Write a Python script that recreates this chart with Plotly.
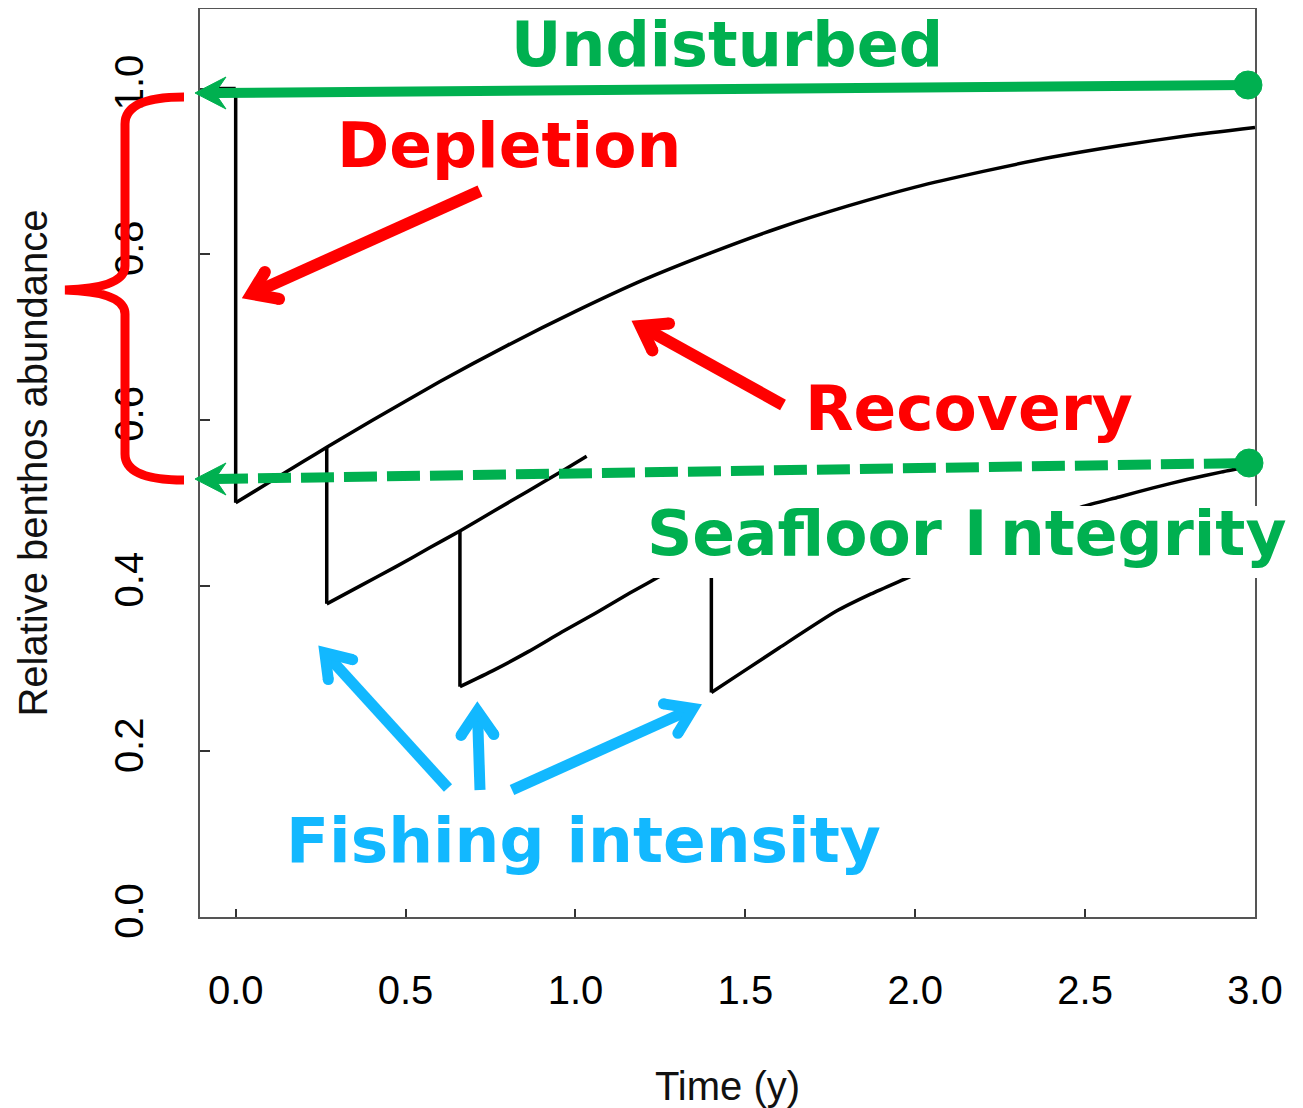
import math
import plotly.graph_objects as go

# ---------------- data ----------------
# recovery after the first (t = 0) impact, continued without further fishing
recovery_t = [0.0, 0.1, 0.2, 0.268, 0.4, 0.6, 0.8, 1.0, 1.2, 1.4, 1.6, 1.8, 2.0, 2.2, 2.4, 2.6, 2.8, 3.0]
recovery_b = [0.500, 0.525, 0.550, 0.567, 0.599, 0.646, 0.690, 0.731, 0.769, 0.802, 0.832, 0.858,
              0.881, 0.900, 0.917, 0.931, 0.943, 0.953]

# recovery after the 2nd impact (t = 0.268), drawn until t = 1.03
seg2_t = [0.268, 0.368, 0.468, 0.568, 0.66, 0.76, 0.86, 0.96, 1.033]
seg2_b = [0.378, 0.400, 0.422, 0.445, 0.466, 0.490, 0.514, 0.538, 0.556]

# recovery after the 3rd impact (t = 0.66) until the 4th impact (t = 1.40)
seg3_t = [0.66, 0.76, 0.86, 0.96, 1.06, 1.16, 1.26, 1.40]
seg3_b = [0.278, 0.298, 0.320, 0.344, 0.367, 0.391, 0.414, 0.447]

# recovery after the 4th impact (t = 1.40)
seg4_t = [1.40, 1.50, 1.60, 1.767, 1.87, 1.98, 2.10, 2.20, 2.30, 2.40, 2.49, 2.60, 2.70, 2.80, 2.90, 3.00]
seg4_b = [0.271, 0.298, 0.325, 0.369, 0.390, 0.410, 0.432, 0.449, 0.465, 0.480, 0.495, 0.507,
          0.518, 0.528, 0.537, 0.545]

# undisturbed level before the first impact
pre_t = [-0.05, 0.0]
pre_b = [1.0, 1.0]

# fishing impacts (depletion events): time, abundance before, abundance after
impact_t = [0.0, 0.268, 0.66, 1.40]
impact_before = [1.0, 0.567, 0.466, 0.447]
impact_after = [0.5, 0.378, 0.278, 0.271]

x_ticks = [0.0, 0.5, 1.0, 1.5, 2.0, 2.5, 3.0]
x_ticktext = ["0.0", "0.5", "1.0", "1.5", "2.0", "2.5", "3.0"]
y_ticks = [0.0, 0.2, 0.4, 0.6, 0.8, 1.0]
y_ticktext = ["0.0", "0.2", "0.4", "0.6", "0.8", "1.0"]

# ---------------- layout geometry ----------------
# the page places the figure 8 px from the top-left corner of the window
OFF = 8
W, H = 1303 - OFF, 1108 - OFF
PL, PR, PT, PB = 200, 1255, 9, 917          # plot box in window pixels
ML, MR, MT, MB = PL - OFF, W - (PR - OFF), PT - OFF, H - (PB - OFF)

GREEN = "#00B050"
RED = "#FF0000"
BLUE = "#12B8FF"
BLACK = "#000000"


def px(x):
    return (x - PL) / (PR - PL)


def py(y):
    return (PB - y) / (PB - PT)


def pt(x, y):
    return f"{px(x):.5f},{py(y):.5f}"


fig = go.Figure()

line_style = dict(color=BLACK, width=3.5)
fig.add_trace(go.Scatter(x=pre_t, y=pre_b, mode="lines", line=line_style, hoverinfo="skip"))
drop_x, drop_y = [], []
for t, b0, b1 in zip(impact_t, impact_before, impact_after):
    drop_x += [t, t, None]
    drop_y += [b0, b1, None]
fig.add_trace(go.Scatter(x=drop_x, y=drop_y, mode="lines", line=line_style, hoverinfo="skip"))
for tt, bb in [(recovery_t, recovery_b), (seg2_t, seg2_b), (seg3_t, seg3_b), (seg4_t, seg4_b)]:
    fig.add_trace(go.Scatter(x=tt, y=bb, mode="lines",
                             line=dict(color=BLACK, width=3.5, shape="spline", smoothing=0.6),
                             hoverinfo="skip"))

shapes = []

# white box behind "Seafloor Integrity"
shapes.append(dict(type="rect", xref="paper", yref="paper", layer="above",
                   x0=px(646), x1=px(1296), y0=py(578), y1=py(506),
                   fillcolor="white", line=dict(width=0)))


def green_arrow(tip, end, dashed):
    tx, ty = tip
    ex, ey = end
    shapes.append(dict(type="line", xref="paper", yref="paper", layer="above",
                       x0=px(tx + 20), y0=py(ty), x1=px(ex), y1=py(ey),
                       line=dict(color=GREEN, width=10, dash="33px,10px" if dashed else "solid")))
    shapes.append(dict(type="path", xref="paper", yref="paper", layer="above",
                       path=f"M{pt(tx, ty)} L{pt(tx + 31, ty - 16)} L{pt(tx + 20, ty)} L{pt(tx + 31, ty + 16)} Z",
                       fillcolor=GREEN, line=dict(color=GREEN, width=1)))
    r = 14
    shapes.append(dict(type="circle", xref="paper", yref="paper", layer="above",
                       x0=px(ex - r), x1=px(ex + r), y0=py(ey + r), y1=py(ey - r),
                       fillcolor=GREEN, line=dict(color=GREEN, width=1)))


green_arrow((195, 93), (1248, 85), False)
green_arrow((195, 479), (1249, 463), True)

# red curly bracket
brace = (f"M{pt(184, 97)} Q{pt(125, 97)} {pt(125, 124)} L{pt(125, 266)} "
         f"Q{pt(125, 288)} {pt(65, 290)} Q{pt(125, 292)} {pt(125, 314)} "
         f"L{pt(125, 454)} Q{pt(125, 480)} {pt(184, 480)}")
shapes.append(dict(type="path", xref="paper", yref="paper", layer="above", path=brace,
                   line=dict(color=RED, width=9)))


def chevron_arrow(tail, tip, barbs, color, w):
    tx, ty = tip
    dx, dy = tx - tail[0], ty - tail[1]
    n = math.hypot(dx, dy)
    ux, uy = dx / n, dy / n
    angs = []
    for bx, by in barbs:
        vx, vy = bx - tx, by - ty
        c = (-ux * vx - uy * vy) / math.hypot(vx, vy)
        angs.append(math.acos(max(-1, min(1, c))))
    th = sum(angs) / len(angs)
    off = (w / 2) / math.sin(th)
    vx0, vy0 = tx - ux * off, ty - uy * off
    ends = []
    for bx, by in barbs:
        ddx, ddy = bx - vx0, by - vy0
        m = math.hypot(ddx, ddy)
        ends.append((bx - ddx / m * w / 2, by - ddy / m * w / 2))
    shapes.append(dict(type="line", xref="paper", yref="paper", layer="above",
                       x0=px(tail[0]), y0=py(tail[1]), x1=px(vx0 - ux * 2), y1=py(vy0 - uy * 2),
                       line=dict(color=color, width=w)))
    shapes.append(dict(type="path", xref="paper", yref="paper", layer="above",
                       path=f"M{pt(*ends[0])} L{pt(vx0, vy0)} L{pt(*ends[1])}",
                       line=dict(color=color, width=w)))
    for ex, ey in ends:
        r = w / 2
        shapes.append(dict(type="circle", xref="paper", yref="paper", layer="above",
                           x0=px(ex - r), x1=px(ex + r), y0=py(ey + r), y1=py(ey - r),
                           fillcolor=color, line=dict(width=0)))


chevron_arrow((480, 191), (238, 300), [(268, 267), (285, 300)], RED, 12)
chevron_arrow((783, 405), (628, 319), [(675, 323), (655, 356)], RED, 12)
chevron_arrow((448, 788), (316, 643), [(358, 661), (329, 685)], BLUE, 11)
chevron_arrow((480, 790), (477, 698), [(458, 740), (497, 739)], BLUE, 11)
chevron_arrow((512, 790), (705, 703), [(658, 703), (675, 738)], BLUE, 11)

annotations = []


def label(text, cx, cy, color, size):
    annotations.append(dict(text=text, xref="paper", yref="paper", x=px(cx), y=py(cy),
                            xanchor="center", yanchor="middle", showarrow=False,
                            font=dict(family="DejaVu Sans", size=size, color=color, weight="bold")))


label("Undisturbed", 727, 44, GREEN, 62)
label("Depletion", 509, 145, RED, 63)
label("Recovery", 969, 408, RED, 63)
label("Seafloor I\u2009ntegrity", 967, 533, GREEN, 63)
label("Fishing intensity", 583, 840, BLUE, 63)

axis_common = dict(showgrid=False, zeroline=False, showline=True, mirror=True,
                   linecolor="#555555", linewidth=2, ticks="inside", tickcolor="#333333",
                   tickwidth=2, tickfont=dict(family="Liberation Sans", size=40, color=BLACK))

fig.update_layout(
    width=W, height=H,
    margin=dict(l=ML, r=MR, t=MT, b=MB, autoexpand=False),
    paper_bgcolor="white", plot_bgcolor="white",
    showlegend=False,
    shapes=shapes, annotations=annotations,
    xaxis=dict(range=[-0.105, 3.0], tickvals=x_ticks, ticktext=x_ticktext, ticklen=8,
               ticklabelstandoff=37,
               title=dict(text="Time (y)", standoff=61,
                          font=dict(family="Liberation Sans", size=40, color="#111111")),
               **axis_common),
    yaxis=dict(range=[0, 1.096], tickvals=y_ticks, ticktext=y_ticktext, ticklen=10, tickangle=-90,
               ticklabelstandoff=39,
               title=dict(text="Relative benthos abundance", standoff=47,
                          font=dict(family="Liberation Sans", size=40, color="#111111")),
               **axis_common),
)

fig.write_html("out.html")
